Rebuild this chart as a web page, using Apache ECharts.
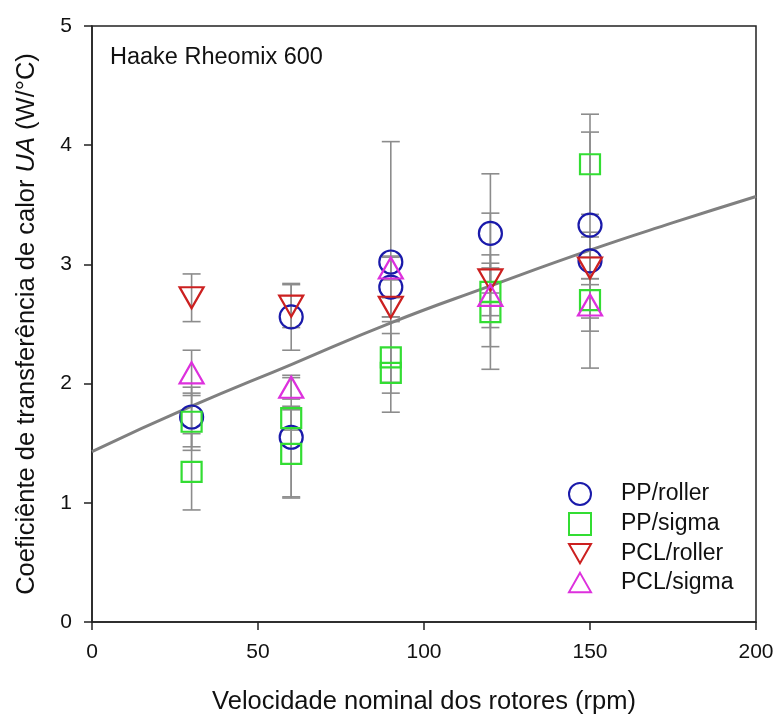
<!DOCTYPE html>
<html>
<head>
<meta charset="utf-8">
<script src="https://cdn.jsdelivr.net/npm/echarts@6/dist/echarts.min.js"></script>
<style>html,body{margin:0;padding:0;background:#fff}#c{width:777px;height:716px}</style>
</head>
<body>
<div id="c"></div>
<script>
// ---- data ----
const xTicks = [0, 50, 100, 150, 200];
const yTicks = [0, 1, 2, 3, 4, 5];

const ppRollerX   = [30, 60, 60, 90, 90, 120, 150, 150];
const ppRollerY   = [1.72, 2.56, 1.55, 3.02, 2.81, 3.26, 3.33, 3.03];
const ppRollerErr = [0.25, 0.28, 0.50, 1.01, 0.25, 0.50, 0.78, 0.20];

const ppSigmaX   = [30, 30, 60, 60, 90, 90, 120, 120, 150, 150];
const ppSigmaY   = [1.68, 1.26, 1.71, 1.41, 2.22, 2.09, 2.77, 2.60, 3.84, 2.70];
const ppSigmaErr = [0.24, 0.32, 0.10, 0.37, 0.30, 0.33, 0.20, 0.48, 0.42, 0.57];

const pclRollerX   = [30, 60, 90, 120, 150];
const pclRollerY   = [2.72, 2.65, 2.64, 2.87, 2.97];
const pclRollerErr = [0.20, 0.18, 0.08, 0.56, 0.09];

const pclSigmaX   = [30, 60, 90, 120, 150];
const pclSigmaY   = [2.09, 1.97, 2.97, 2.74, 2.66];
const pclSigmaErr = [0.19, 0.10, 0.10, 0.27, 0.22];

const trendX = [0, 30, 60, 90, 120, 150, 175, 200];
const trendY = [1.43, 1.81, 2.16, 2.51, 2.82, 3.12, 3.35, 3.57];

// ---- build ----
const FONT = '"Liberation Sans", Arial, sans-serif';
const pts = (xs, ys) => xs.map((x, i) => [x, ys[i]]);
const errs = (xs, ys, es) => xs.map((x, i) => [x, ys[i] - es[i], ys[i] + es[i]]);

const allErr = [].concat(
  errs(ppRollerX, ppRollerY, ppRollerErr),
  errs(ppSigmaX, ppSigmaY, ppSigmaErr),
  errs(pclRollerX, pclRollerY, pclRollerErr),
  errs(pclSigmaX, pclSigmaY, pclSigmaErr)
);

function renderErr(params, api) {
  const x = api.value(0), lo = api.value(1), hi = api.value(2);
  const a = api.coord([x, hi]), b = api.coord([x, lo]);
  const hw = 9;
  const st = { stroke: '#8c8c8c', lineWidth: 1.6 };
  return {
    type: 'group',
    children: [
      { type: 'line', shape: { x1: a[0], y1: a[1], x2: b[0], y2: b[1] }, style: st },
      { type: 'line', shape: { x1: a[0] - hw, y1: a[1], x2: a[0] + hw, y2: a[1] }, style: st },
      { type: 'line', shape: { x1: b[0] - hw, y1: b[1], x2: b[0] + hw, y2: b[1] }, style: st }
    ]
  };
}

const mk = (name, xs, ys, symbol, size, color, rot) => ({
  name, type: 'scatter', data: pts(xs, ys), symbol, symbolSize: size,
  symbolRotate: rot || 0, z: 5,
  itemStyle: { color: 'rgba(0,0,0,0)', borderColor: color, borderWidth: 2.2, opacity: 1 },
  emphasis: { disabled: true }
});

const chart = echarts.init(document.getElementById('c'), null, { renderer: 'canvas' });
chart.setOption({
  animation: false,
  backgroundColor: '#fff',
  textStyle: { fontFamily: FONT },
  title: {
    text: 'Haake Rheomix 600', left: 105, top: 41,
    textStyle: { fontFamily: FONT, fontSize: 23.5, fontWeight: 'normal', color: '#111' }
  },
  grid: { left: 92, right: 21, top: 26, bottom: 94, show: true, borderColor: '#222', borderWidth: 1.5,
          backgroundColor: 'transparent', containLabel: false, outerBoundsMode: 'none' },
  xAxis: {
    type: 'value', min: xTicks[0], max: xTicks[xTicks.length - 1], interval: 50,
    name: 'Velocidade nominal dos rotores (rpm)', nameLocation: 'middle', nameGap: 67,
    nameTextStyle: { fontFamily: FONT, fontSize: 25.5, color: '#111' },
    axisLine: { lineStyle: { color: '#222', width: 1.5 } },
    axisTick: { inside: false, length: 8, lineStyle: { color: '#222', width: 1.5 } },
    axisLabel: { fontFamily: FONT, fontSize: 21, color: '#111', margin: 20 },
    splitLine: { show: false }
  },
  yAxis: {
    type: 'value', min: yTicks[0], max: yTicks[yTicks.length - 1], interval: 1,
    name: '{a|Coeficiênte de transferência de calor }{b|UA}{a| (W/°C)}',
    nameLocation: 'middle', nameGap: 52,
    nameTextStyle: {
      fontFamily: FONT, fontSize: 25.5, color: '#111',
      rich: {
        a: { fontFamily: FONT, fontSize: 25.5, color: '#111' },
        b: { fontFamily: FONT, fontSize: 25.5, color: '#111', fontStyle: 'italic' }
      }
    },
    axisLine: { lineStyle: { color: '#222', width: 1.5 } },
    axisTick: { inside: false, length: 8, lineStyle: { color: '#222', width: 1.5 } },
    axisLabel: { fontFamily: FONT, fontSize: 21, color: '#111', margin: 20 },
    splitLine: { show: false }
  },
  legend: {
    orient: 'vertical', left: 563, top: 477, itemWidth: 22, itemHeight: 22, itemGap: 6,
    symbolRotate: 0,
    data: [
      { name: 'PP/roller', icon: 'circle' },
      { name: 'PP/sigma', icon: 'path://M0,0L20,0L20,20L0,20Z' },
      { name: 'PCL/roller', icon: 'path://M0,0L24,0L12,21Z' },
      { name: 'PCL/sigma', icon: 'path://M12,0L24,21L0,21Z' }
    ],
    textStyle: { fontFamily: FONT, fontSize: 23, color: '#111', padding: [0, 0, 0, 25] },
    selectedMode: false
  },
  series: [
    { name: 'err', type: 'custom', renderItem: renderErr, data: allErr, encode: { x: 0, y: [1, 2] }, z: 2, silent: true },
    { name: 'trend', type: 'line', data: pts(trendX, trendY), smooth: true, showSymbol: false, symbol: 'none',
      lineStyle: { color: '#808080', width: 3 }, z: 3, silent: true },
    mk('PP/roller', ppRollerX, ppRollerY, 'circle', 23, '#1a1aaa'),
    mk('PP/sigma', ppSigmaX, ppSigmaY, 'rect', 20, '#33dd33'),
    mk('PCL/roller', pclRollerX, pclRollerY, 'triangle', [24, 21], '#cc2020', 180),
    mk('PCL/sigma', pclSigmaX, pclSigmaY, 'triangle', [24, 21], '#dd30dd')
  ]
});
</script>
</body>
</html>
